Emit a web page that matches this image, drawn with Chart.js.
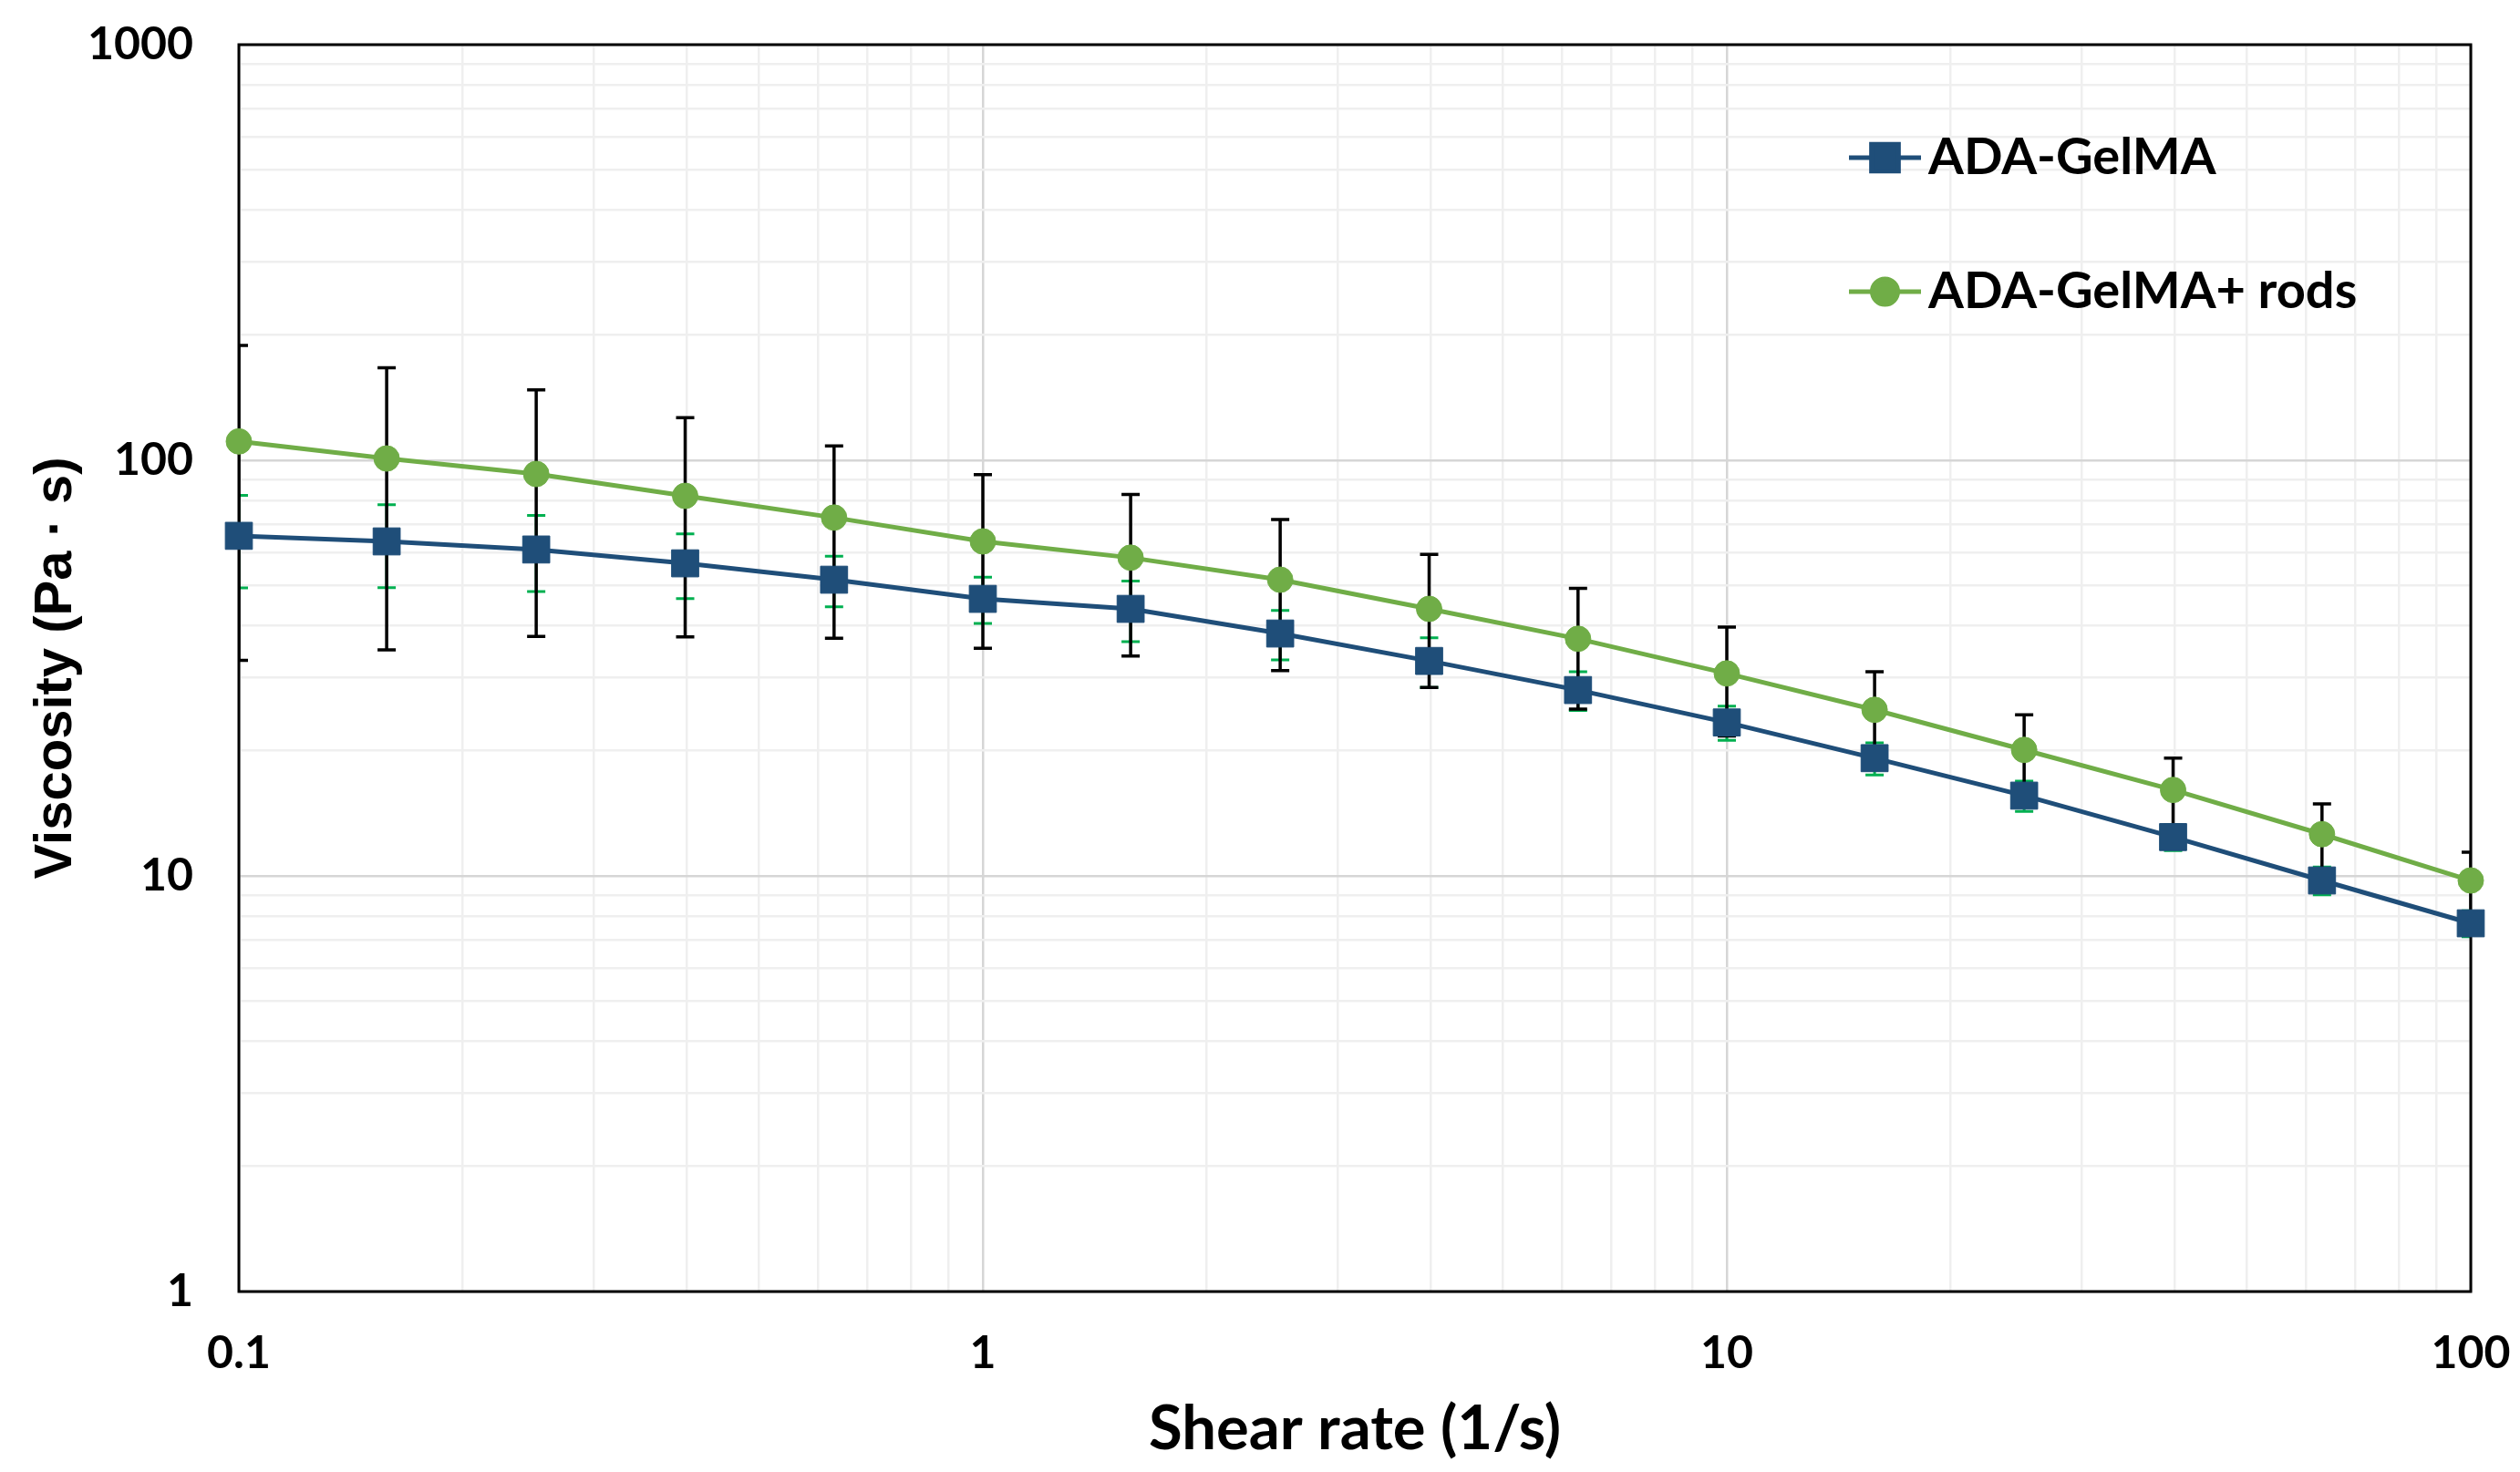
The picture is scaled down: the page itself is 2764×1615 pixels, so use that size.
<!DOCTYPE html>
<html>
<head>
<meta charset="utf-8">
<title>Viscosity vs shear rate</title>
<script src="https://cdn.jsdelivr.net/npm/chart.js@4.4.1/dist/chart.umd.min.js"></script>
<style>
    html, body { margin: 0; padding: 0; background: #ffffff; }
    #chart_visc { display: block; }
</style>
</head>
<body>
<canvas id="chart_visc" width="2764" height="1615"></canvas>
<script>
const shear_rate = [0.1, 0.158, 0.251, 0.398, 0.631, 1, 1.58, 2.51, 3.98, 6.31, 10, 15.8, 25.1, 39.8, 63.1, 100];

const gelma_visc = [65.8, 63.8, 61, 56.5, 51.6, 46.4, 43.9, 38.3, 32.9, 28, 23.4, 19.2, 15.6, 12.4, 9.75, 7.69];
const gelma_err = [16.5, 14.4, 12.7, 10, 7.2, 5.9, 7.3, 5.2, 4.5, 3.0, 2.2, 1.7, 1.3, 0.9, 0.75, 0.55];

const rods_visc = [111, 101, 92.7, 82.1, 72.8, 63.8, 58.3, 51.6, 43.9, 37.2, 30.7, 25.1, 20.1, 16.1, 12.6, 9.75];
const rods_err = [78, 66, 55, 44.5, 35.5, 28.5, 24.5, 20.4, 15.5, 12, 9, 5.9, 4.3, 3.1, 2.3, 1.65];

const x_ticks = [0.1, 0.2, 0.3, 0.4, 0.5, 0.6, 0.7, 0.8, 0.9, 1, 2, 3, 4, 5, 6, 7, 8, 9, 10, 20, 30, 40, 50, 60, 70, 80, 90, 100];
const y_ticks = [1, 2, 3, 4, 5, 6, 7, 8, 9, 10, 20, 30, 40, 50, 60, 70, 80, 90, 100, 200, 300, 400, 500, 600, 700, 800, 900, 1000];

const series_names = ['ADA-GelMA', 'ADA-GelMA+ rods'];

function is_decade(v) {
    const lg = Math.log10(v);
    return Math.abs(lg - Math.round(lg)) < 1e-9;
}

function decade_label(value) {
    return is_decade(value) ? String(value) : '';
}

function grid_color(ctx) {
    if (!ctx.tick) {
        return '#f0f0f0';
    }
    return is_decade(ctx.tick.value) ? '#d6d6d6' : '#efefef';
}

// keep the plot box where the layout padding puts it
function no_label_padding(scale) {
    scale.paddingTop = 0;
    scale.paddingBottom = 0;
    scale.paddingLeft = 0;
    scale.paddingRight = 0;
}

// error bars, clipped to the plot box like the spreadsheet does
const error_bar_plugin = {
    id: 'error_bars',
    beforeDatasetsDraw(chart) {
        const ctx = chart.ctx;
        const area = chart.chartArea;
        const xs = chart.scales.x;
        const ys = chart.scales.y;

        ctx.save();
        ctx.beginPath();
        ctx.rect(area.left, area.top, area.right - area.left, area.bottom - area.top);
        ctx.clip();

        chart.data.datasets.forEach((ds) => {
            const errs = ds.err_values || [];
            ctx.strokeStyle = ds.err_color;
            ctx.lineWidth = ds.err_width;
            ds.data.forEach((pt, i) => {
                const e = errs[i];
                if (!e) {
                    return;
                }
                const px = xs.getPixelForValue(pt.x);
                const hi = ys.getPixelForValue(pt.y + e);
                const lo = ys.getPixelForValue(Math.max(pt.y - e, 0.001));
                const cap = 10;
                ctx.beginPath();
                ctx.moveTo(px, hi);
                ctx.lineTo(px, lo);
                ctx.moveTo(px - cap, hi);
                ctx.lineTo(px + cap, hi);
                ctx.moveTo(px - cap, lo);
                ctx.lineTo(px + cap, lo);
                ctx.stroke();
            });
        });
        ctx.restore();

        ctx.save();
        ctx.strokeStyle = '#000000';
        ctx.lineWidth = 3;
        ctx.strokeRect(area.left, area.top, area.right - area.left, area.bottom - area.top);
        ctx.restore();
    },
};

const legend_plugin = {
    id: 'line_legend',
    afterDatasetsDraw(chart) {
        const ctx = chart.ctx;
        const area = chart.chartArea;
        const line_x0 = area.right - 682;
        const line_x1 = area.right - 603;
        const text_x = area.right - 595;
        const rows = [area.top + 124, area.top + 271];

        ctx.save();
        chart.data.datasets.forEach((ds, i) => {
            const y = rows[i];
            ctx.strokeStyle = ds.borderColor;
            ctx.lineWidth = ds.borderWidth;
            ctx.beginPath();
            ctx.moveTo(line_x0, y);
            ctx.lineTo(line_x1, y);
            ctx.stroke();

            ctx.fillStyle = ds.pointBackgroundColor;
            ctx.strokeStyle = ds.pointBorderColor;
            Chart.helpers.drawPoint(ctx, {
                pointStyle: ds.pointStyle,
                radius: ds.pointRadius,
                borderWidth: ds.pointBorderWidth,
                rotation: 0,
            }, (line_x0 + line_x1) / 2, y);

            ctx.fillStyle = '#000000';
            ctx.font = 'bold 56px Lato';
            ctx.textAlign = 'left';
            ctx.textBaseline = 'middle';
            ctx.fillText(ds.label, text_x, y);
        });
        ctx.restore();
    },
};

function build_points(values) {
    return shear_rate.map((x, i) => ({ x: x, y: values[i] }));
}

function render_chart() {
    const canvas = document.getElementById('chart_visc');
    if (!canvas || typeof Chart === 'undefined') {
        return;
    }

    new Chart(canvas.getContext('2d'), {
        type: 'line',
        data: {
            datasets: [
                {
                    label: series_names[0],
                    data: build_points(gelma_visc),
                    err_values: gelma_err,
                    err_color: '#00b050',
                    err_width: 3,
                    borderColor: '#1f4e79',
                    borderWidth: 5,
                    pointStyle: 'rect',
                    pointRadius: 21,
                    pointHoverRadius: 21,
                    pointBackgroundColor: '#1f4e79',
                    pointBorderColor: '#1f4e79',
                    pointBorderWidth: 1,
                    tension: 0,
                    clip: false,
                    order: 1,
                },
                {
                    label: series_names[1],
                    data: build_points(rods_visc),
                    err_values: rods_err,
                    err_color: '#000000',
                    err_width: 3.5,
                    borderColor: '#70ad47',
                    borderWidth: 5,
                    pointStyle: 'circle',
                    pointRadius: 14,
                    pointHoverRadius: 14,
                    pointBackgroundColor: '#70ad47',
                    pointBorderColor: '#70ad47',
                    pointBorderWidth: 1,
                    tension: 0,
                    clip: false,
                    order: 0,
                },
            ],
        },
        options: {
            responsive: false,
            devicePixelRatio: 1,
            animation: false,
            events: [],
            layout: {
                padding: { top: 49, right: 54, left: 0, bottom: 0 },
            },
            plugins: {
                legend: { display: false },
                tooltip: { enabled: false },
            },
            scales: {
                x: {
                    type: 'logarithmic',
                    min: 0.1,
                    max: 100,
                    afterBuildTicks: (scale) => {
                        scale.ticks = x_ticks.map((v) => ({ value: v }));
                    },
                    afterFit: (scale) => {
                        scale.height = 198;
                        no_label_padding(scale);
                    },
                    border: { display: false },
                    grid: {
                        color: grid_color,
                        lineWidth: 2.5,
                        drawTicks: false,
                    },
                    ticks: {
                        autoSkip: false,
                        maxRotation: 0,
                        padding: 38,
                        color: '#000000',
                        font: { family: 'Lato', size: 50, weight: 'bold' },
                        callback: decade_label,
                    },
                    title: {
                        display: true,
                        text: 'Shear rate (1/s)',
                        color: '#000000',
                        font: { family: 'Lato', size: 67, weight: 'bold' },
                        padding: { top: 0, bottom: 6 },
                    },
                },
                y: {
                    type: 'logarithmic',
                    min: 1,
                    max: 1000,
                    afterBuildTicks: (scale) => {
                        scale.ticks = y_ticks.map((v) => ({ value: v }));
                    },
                    afterFit: (scale) => {
                        scale.width = 262;
                        no_label_padding(scale);
                    },
                    border: { display: false },
                    grid: {
                        color: grid_color,
                        lineWidth: 2.5,
                        drawTicks: false,
                    },
                    ticks: {
                        autoSkip: false,
                        padding: 50,
                        color: '#000000',
                        font: { family: 'Lato', size: 50, weight: 'bold' },
                        callback: decade_label,
                    },
                    title: {
                        display: true,
                        text: 'Viscosity (Pa · s)',
                        color: '#000000',
                        font: { family: 'Liberation Sans', size: 58, weight: 'bold' },
                        padding: { top: 27, bottom: 0 },
                    },
                },
            },
        },
        plugins: [error_bar_plugin, legend_plugin],
    });
}

render_chart();
</script>
</body>
</html>
